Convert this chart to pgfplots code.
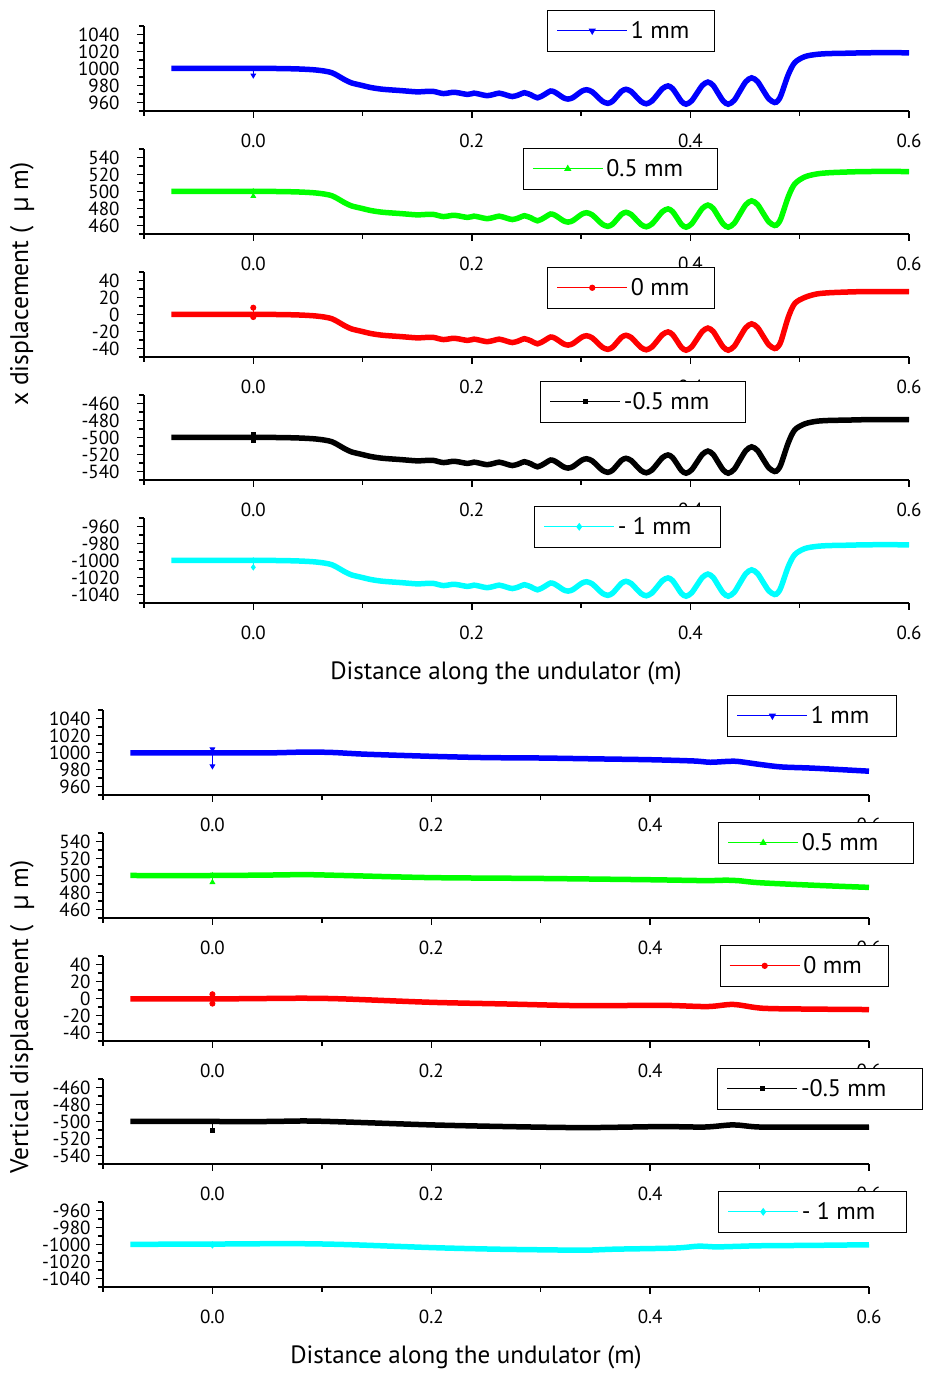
\documentclass[border=0pt]{standalone}
\usepackage{pgfplots}
\pgfplotsset{compat=1.18}
\usepackage{pgfplotstable}
\usepackage{fontspec}
\setmainfont{PT Sans}
\newfontfamily\grk{Open Sans}

% x displacement (deviation from nominal offset), one column per panel
\pgfplotstableread{
x a b c d e
-0.075 0 0 0 0 0
-0.05 0 0 0 0 0
-0.025 0 0 0 0 0
0.0 0 0 0 0 0
0.02 0 0 0 0 0
0.04 -0.5 -0.5 -0.5 -0.5 -0.5
0.055 -1.5 -1.5 -1.5 -1.5 -1.5
0.065 -3 -3 -3 -3 -3
0.072 -5 -5 -5 -5 -5
0.078 -9 -9 -9 -9 -9
0.084 -13.5 -13.5 -13.5 -13.5 -13.5
0.09 -17 -17 -17 -17 -17
0.098 -19.5 -19.5 -19.5 -19.5 -19.5
0.108 -22.5 -22.5 -22.5 -22.5 -22.5
0.119 -24.5 -24.5 -24.5 -24.5 -24.5
0.135 -26 -26 -26 -26 -26
0.15 -27.5 -27.5 -27.5 -27.5 -27.5
0.158 -27 -27 -27 -27 -27
0.165 -27 -27 -27 -27 -27
0.174 -29.5 -29.5 -29.5 -29.5 -29.5
0.184 -28 -28 -28 -28 -28
0.196 -30.5 -30.5 -30.5 -30.5 -30.5
0.202 -29 -29 -29 -29 -29
0.208 -30.5 -30.5 -30.5 -30.5 -30.5
0.214 -32 -32 -32 -32 -32
0.22 -30.5 -30.5 -30.5 -30.5 -30.5
0.225 -29 -29 -29 -29 -29
0.231 -31 -31 -31 -31 -31
0.237 -33 -33 -33 -33 -33
0.243 -31 -31 -31 -31 -31
0.248 -28.5 -28.5 -28.5 -28.5 -28.5
0.254 -31 -31 -31 -31 -31
0.26 -34.5 -34.5 -34.5 -34.5 -34.5
0.266 -31 -31 -31 -31 -31
0.272 -26.5 -26.5 -26.5 -26.5 -26.5
0.276 -27.9 -27.9 -27.9 -27.9 -27.9
0.280 -31.2 -31.2 -31.2 -31.2 -31.2
0.284 -34.6 -34.6 -34.6 -34.6 -34.6
0.288 -36 -36 -36 -36 -36
0.2923 -34.4 -34.4 -34.4 -34.4 -34.4
0.2965 -30.5 -30.5 -30.5 -30.5 -30.5
0.3008 -26.6 -26.6 -26.6 -26.6 -26.6
0.305 -25 -25 -25 -25 -25
0.3099 -27.3 -27.3 -27.3 -27.3 -27.3
0.3148 -33 -33 -33 -33 -33
0.3196 -38.7 -38.7 -38.7 -38.7 -38.7
0.3245 -41 -41 -41 -41 -41
0.3286 -38.6 -38.6 -38.6 -38.6 -38.6
0.3328 -32.7 -32.7 -32.7 -32.7 -32.7
0.3369 -26.9 -26.9 -26.9 -26.9 -26.9
0.341 -24.5 -24.5 -24.5 -24.5 -24.5
0.3457 -27 -27 -27 -27 -27
0.3503 -33 -33 -33 -33 -33
0.3550 -39 -39 -39 -39 -39
0.3596 -41.5 -41.5 -41.5 -41.5 -41.5
0.3646 -38.4 -38.4 -38.4 -38.4 -38.4
0.3696 -31 -31 -31 -31 -31
0.3745 -23.6 -23.6 -23.6 -23.6 -23.6
0.3795 -20.5 -20.5 -20.5 -20.5 -20.5
0.3836 -23.6 -23.6 -23.6 -23.6 -23.6
0.3878 -31.2 -31.2 -31.2 -31.2 -31.2
0.3919 -38.9 -38.9 -38.9 -38.9 -38.9
0.396 -42 -42 -42 -42 -42
0.401 -38.2 -38.2 -38.2 -38.2 -38.2
0.406 -29 -29 -29 -29 -29
0.411 -19.8 -19.8 -19.8 -19.8 -19.8
0.416 -16 -16 -16 -16 -16
0.4207 -19.8 -19.8 -19.8 -19.8 -19.8
0.4253 -29 -29 -29 -29 -29
0.430 -38.2 -38.2 -38.2 -38.2 -38.2
0.4346 -42 -42 -42 -42 -42
0.440 -37.5 -37.5 -37.5 -37.5 -37.5
0.4453 -26.5 -26.5 -26.5 -26.5 -26.5
0.4507 -15.5 -15.5 -15.5 -15.5 -15.5
0.456 -11 -11 -11 -11 -11
0.4613 -15.2 -15.2 -15.2 -15.2 -15.2
0.4665 -25.5 -25.5 -25.5 -25.5 -25.5
0.4718 -35.8 -35.8 -35.8 -35.8 -35.8
0.477 -40 -40 -40 -40 -40
0.480 -38 -38 -38 -38 -38
0.483 -31 -31 -31 -31 -31
0.4896 -7 -6 -3 -6 -7
0.4955 7 9 13 9 7
0.5046 14 17 20 16 14
0.515 16.5 20.5 24 19 16.5
0.526 17.5 22 25.5 20 17.5
0.545 18 23 26.5 20.5 18
0.563 18.5 23.5 27 21 18.5
0.6 18.5 23.5 27 21 18.5
}\toptab

\pgfplotstableread{
x y
-0.075 999.5
0.0 999.5
0.05 999.5
0.085 1000.5
0.11 1000
0.14 998
0.2 995.5
0.25 994
0.3 993.5
0.35 992.5
0.4 991.5
0.44 990
0.455 988.5
0.47 989.5
0.48 989.5
0.5 986
0.52 983
0.55 981.5
0.6 978
}\bota

\pgfplotstableread{
x y
-0.075 500
0.0 500
0.05 500.5
0.085 501
0.12 500
0.2 497.5
0.3 496.5
0.4 495
0.45 494
0.47 494.5
0.48 494
0.5 491.5
0.55 488.5
0.6 486
}\botb

\pgfplotstableread{
x y
-0.075 -0.5
0.0 -0.5
0.05 0
0.085 0.3
0.12 -0.5
0.2 -4.5
0.27 -6.5
0.34 -8.5
0.41 -8
0.452 -9.5
0.476 -7
0.503 -11.5
0.55 -12.5
0.6 -13
}\botc

\pgfplotstableread{
x y
-0.075 -500
0.0 -500
0.05 -500
0.085 -499.4
0.12 -500.5
0.2 -504
0.27 -506
0.34 -507.2
0.41 -506
0.45 -506.5
0.476 -504
0.5 -506.5
0.55 -506.7
0.6 -506.5
}\botd

\pgfplotstableread{
x y
-0.075 -999.8
0.0 -999.5
0.07 -999
0.12 -1000
0.204 -1003.8
0.259 -1005.5
0.305 -1006.3
0.34 -1006.7
0.368 -1005.5
0.4226 -1004.2
0.444 -1002
0.46 -1002.8
0.477 -1002.3
0.5 -1001.5
0.55 -1001
0.6 -1000.3
}\bote

\definecolor{cblue}{RGB}{0,0,255}
\definecolor{cgreen}{RGB}{0,255,0}
\definecolor{cred}{RGB}{255,0,0}
\definecolor{ccyan}{RGB}{0,255,255}

\newcommand{\pad}[1]{\rule{#1}{0pt}}

\pgfplotsset{
  panel/.style={
    scale only axis, width=765pt, height=85pt,
    xmin=-0.1, xmax=0.6,
    axis x line*=bottom, axis y line*=left,
    axis line style={line width=1.8pt, black, -},
    every tick/.append style={black, line width=1.5pt},
    tick align=outside,
    major tick length=7pt, minor tick length=5pt,
    xtick={0,0.2,0.4,0.6}, xticklabels={0.0,0.2,0.4,0.6},
    minor xtick={-0.1,0.1,0.3,0.5},
    tick label style={font=\fontsize{19}{20}\selectfont},
    xticklabel style={yshift=-12pt},
    clip=false,
    legend style={draw=black, line width=1pt, fill=white, anchor=north west,
      font=\fontsize{24}{28}\selectfont, inner xsep=9pt, inner ysep=8pt,
      nodes={inner sep=3pt}},
    legend cell align=left,
    legend image code/.code={\draw[mark repeat=2,mark phase=2,#1] plot coordinates {(0pt,0pt) (35pt,0pt) (70pt,0pt)};},
  },
  p1/.style={ymin=950, ymax=1050, ytick={960,980,1000,1020,1040}, yticklabels={960,980,1000,1020,1040}, minor ytick={950,970,990,1010,1030,1050}},
  p2/.style={ymin=450, ymax=550, ytick={460,480,500,520,540}, yticklabels={460,480,500,520,540}, minor ytick={450,470,490,510,530,550}},
  p3/.style={ymin=-50, ymax=50, ytick={-40,-20,0,20,40}, yticklabels={-40,-20,0,20,40}, minor ytick={-50,-30,-10,10,30,50}},
  p4/.style={ymin=-550, ymax=-450, ytick={-540,-520,-500,-480,-460}, yticklabels={-540,-520,-500,-480,-460}, minor ytick={-550,-530,-510,-490,-470,-450}},
  p5/.style={ymin=-1050, ymax=-950, ytick={-1040,-1020,-1000,-980,-960}, yticklabels={-1040,-1020,-1000,-980,-960}, minor ytick={-1050,-1030,-1010,-990,-970,-950}},
  topgrp/.style={panel, width=765pt, yticklabel style={xshift=-14pt}},
  botgrp/.style={panel, width=766pt, yticklabel style={xshift=-2pt}},
  dline/.style={line width=5.5pt, smooth, forget plot},
  mk/.style={line width=1pt, mark size=2.5pt, forget plot},
}

\begin{document}
\begin{tikzpicture}
\useasboundingbox (0pt,0pt) rectangle (929pt,1374pt);

% ---------------- top group: x displacement ----------------
\begin{axis}[topgrp, p1, at={(144pt,1263pt)}, anchor=south west,
  legend style={at={(0.527,1.188)}}]
\addplot[cblue, dline] table[x=x, y expr=\thisrow{a}+1000] {\toptab};
\addplot[cblue, mk, mark=triangle*, mark options={rotate=180}] coordinates {(0,1000) (0,992)};
\addlegendimage{cblue, line width=1.2pt, mark=triangle*, mark size=3pt, mark options={rotate=180}}
\addlegendentry{1 mm\pad{13pt}}
\end{axis}

\begin{axis}[topgrp, p2, at={(144pt,1140pt)}, anchor=south west,
  legend style={at={(0.495,1.012)}}]
\addplot[cgreen, dline] table[x=x, y expr=\thisrow{b}+500] {\toptab};
\addplot[cgreen, mk, mark=triangle*] coordinates {(0,500) (0,494.5)};
\addlegendimage{cgreen, line width=1.2pt, mark=triangle*, mark size=3pt}
\addlegendentry{0.5 mm\pad{22pt}}
\end{axis}

\begin{axis}[topgrp, p3, at={(144pt,1017pt)}, anchor=south west,
  legend style={at={(0.527,1.059)}}]
\addplot[cred, dline] table[x=x, y=c] {\toptab};
\addplot[cred, mk, mark=*] coordinates {(0,8) (0,-3)};
\addlegendimage{cred, line width=1.2pt, mark=*, mark size=2.5pt}
\addlegendentry{0 mm\pad{13pt}}
\end{axis}

\begin{axis}[topgrp, p4, at={(144pt,894pt)}, anchor=south west,
  legend style={at={(0.518,1.165)}}]
\addplot[black, dline] table[x=x, y expr=\thisrow{d}-500] {\toptab};
\addplot[black, mk, mark=square*, mark size=2pt] coordinates {(0,-497) (0,-504)};
\addlegendimage{black, line width=1.2pt, mark=square*, mark size=2pt}
\addlegendentry{-0.5 mm\pad{24pt}}
\end{axis}

\begin{axis}[topgrp, p5, at={(144pt,771pt)}, anchor=south west,
  legend style={at={(0.510,1.141)}}]
\addplot[ccyan, dline] table[x=x, y expr=\thisrow{e}-1000] {\toptab};
\addplot[ccyan, mk, mark=diamond*] coordinates {(0,-1000) (0,-1008)};
\addlegendimage{ccyan, line width=1.2pt, mark=diamond*, mark size=3pt}
\addlegendentry{- 1 mm\pad{17pt}}
\end{axis}

% ---------------- bottom group: vertical displacement ----------------
\begin{axis}[botgrp, p1, at={(103pt,579pt)}, anchor=south west,
  legend style={at={(0.815,1.176)}}]
\addplot[cblue, dline] table[x=x, y=y] {\bota};
\addplot[cblue, mk, mark=triangle*, mark options={rotate=180}] coordinates {(0,1004) (0,984)};
\addlegendimage{cblue, line width=1.2pt, mark=triangle*, mark size=3pt, mark options={rotate=180}}
\addlegendentry{1 mm\pad{15pt}}
\end{axis}

\begin{axis}[botgrp, p2, at={(103pt,456pt)}, anchor=south west,
  legend style={at={(0.803,1.129)}}]
\addplot[cgreen, dline] table[x=x, y=y] {\botb};
\addplot[cgreen, mk, mark=triangle*] coordinates {(0,500) (0,492)};
\addlegendimage{cgreen, line width=1.2pt, mark=triangle*, mark size=3pt}
\addlegendentry{0.5 mm\pad{23pt}}
\end{axis}

\begin{axis}[botgrp, p3, at={(103pt,333pt)}, anchor=south west,
  legend style={at={(0.805,1.129)}}]
\addplot[cred, dline] table[x=x, y=y] {\botc};
\addplot[cred, mk, mark=*] coordinates {(0,5) (0,-6)};
\addlegendimage{cred, line width=1.2pt, mark=*, mark size=2.5pt}
\addlegendentry{0 mm\pad{15pt}}
\end{axis}

\begin{axis}[botgrp, p4, at={(103pt,210pt)}, anchor=south west,
  legend style={at={(0.802,1.129)}}]
\addplot[black, dline] table[x=x, y=y] {\botd};
\addplot[black, mk, mark=square*, mark size=2pt] coordinates {(0,-500) (0,-511)};
\addlegendimage{black, line width=1.2pt, mark=square*, mark size=2pt}
\addlegendentry{-0.5 mm\pad{24pt}}
\end{axis}

\begin{axis}[botgrp, p5, at={(103pt,87pt)}, anchor=south west,
  legend style={at={(0.803,1.129)}}]
\addplot[ccyan, dline] table[x=x, y=y] {\bote};
\addplot[ccyan, mk, mark=diamond*] coordinates {(0,-1000) (0,-1001)};
\addlegendimage{ccyan, line width=1.2pt, mark=diamond*, mark size=3pt}
\addlegendentry{- 1 mm\pad{19pt}}
\end{axis}

% axis titles
\node[font=\fontsize{25}{30}\selectfont] at (506pt,701pt) {Distance along the undulator (m)};
\node[font=\fontsize{25}{30}\selectfont] at (466pt,17pt) {Distance along the undulator (m)};
\node[font=\fontsize{25.5}{30}\selectfont, rotate=90] at (22pt,1090pt) {x displacement (\hspace{14pt}{\grk μ} m)};
\node[font=\fontsize{25.5}{30}\selectfont, rotate=90] at (22pt,357pt) {Vertical displacement (\hspace{14pt}{\grk μ} m)};
\end{tikzpicture}
\end{document}
